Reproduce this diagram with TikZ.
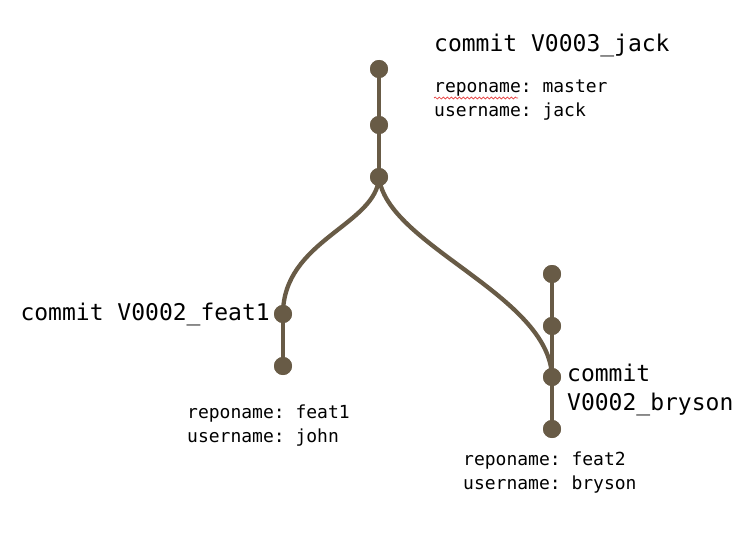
\documentclass[tikz,border=0pt]{standalone}
\usepackage{fontspec}
\setmonofont{DejaVu Sans Mono}
\usetikzlibrary{decorations.pathmorphing}
\definecolor{branch}{RGB}{104,91,70}
\definecolor{squig}{RGB}{230,60,60}
\tikzset{
  dot/.style={circle,fill=branch,inner sep=0pt,minimum size=18pt},
  edge/.style={draw=branch,line width=4.3pt},
  big/.style={font=\ttfamily\fontsize{23}{28}\selectfont,inner sep=0pt},
  small/.style={font=\ttfamily\fontsize{18}{24}\selectfont,inner sep=0pt,align=left},
}
\begin{document}
\begin{tikzpicture}[x=1pt,y=-1pt]
\useasboundingbox (0,0) rectangle (739,543);
% dots
\node[dot] (m1) at (379,69) {};
\node[dot] (m2) at (379,125) {};
\node[dot] (m3) at (379,177) {};
\node[dot] (f1) at (283,314) {};
\node[dot] (f2) at (283,366) {};
\node[dot] (b1) at (552,274) {};
\node[dot] (b2) at (552,326) {};
\node[dot] (b3) at (552,377) {};
\node[dot] (b4) at (552,429) {};
% edges
\draw[edge] (m1.center) -- (m2.center) -- (m3.center);
\draw[edge] (f1.center) -- (f2.center);
\draw[edge] (b1.center) -- (b2.center) -- (b3.center) -- (b4.center);
\draw[edge] (m3.center) .. controls (377,225) and (283,240) .. (f1.center);
\draw[edge] (m3.center) .. controls (386,245) and (550,295) .. (b3.center);
% redraw dots on top
\foreach \n in {m1,m2,m3,f1,f2,b1,b2,b3,b4} \fill[branch] (\n) circle (9pt);
% texts
\node[big,anchor=west] (t1) at (434,45) {commit V0003\_jack};
\node[small,anchor=north west] (i1) at (434,80) {reponame: master\\username: jack};
\node[big,anchor=east] (t2) at (270,314) {commit V0002\_feat1};
\node[small,anchor=north west] (i2) at (187,405) {reponame: feat1\\username: john};
\node[big,anchor=north west,align=left,font=\ttfamily\fontsize{23}{29}\selectfont] (t3) at (567,364) {commit\\V0002\_bryson};
\node[small,anchor=north west] (i3) at (463,452) {reponame: feat2\\username: bryson};
\draw[squig,line width=0.7pt,decorate,decoration={snake,amplitude=1pt,segment length=4pt}] (434,98) -- (518,98);
\end{tikzpicture}
\end{document}
